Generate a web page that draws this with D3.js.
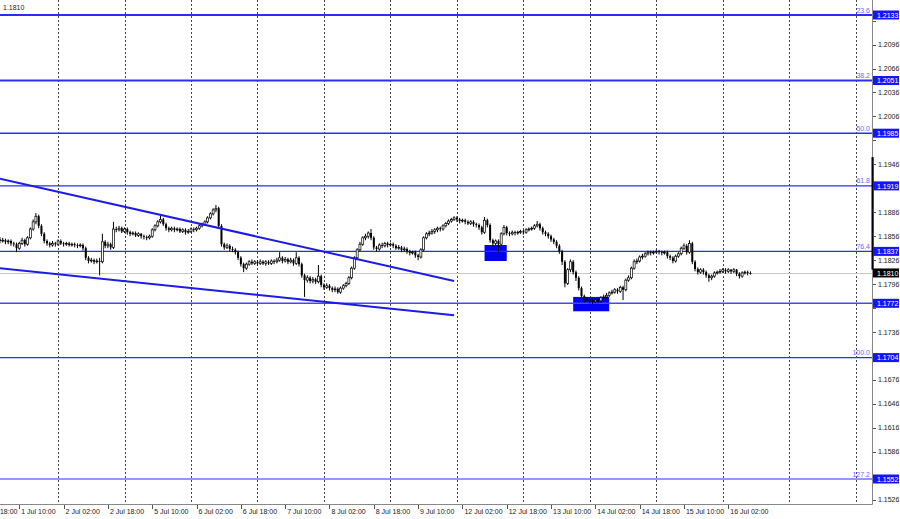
<!DOCTYPE html>
<html><head><meta charset="utf-8">
<script src="https://cdn.jsdelivr.net/npm/d3@7"></script>
<style>body{margin:0;background:#fff;}svg{display:block}</style>
</head><body>
<svg id="chart" width="900" height="519"></svg>
<script>
// ---------------- DATA ----------------
const openP = [
1.1852,1.1850,1.1851,1.1849,1.1850,1.1847,1.1846,1.1841,1.1847,1.1851,
1.1846,1.1854,1.1865,1.1874,1.1881,1.1869,1.1859,1.1850,1.1847,1.1845,
1.1847,1.1846,1.1850,1.1847,1.1846,1.1847,1.1845,1.1846,1.1845,1.1844,
1.1845,1.1841,1.1829,1.1825,1.1826,1.1824,1.1825,1.1824,1.1849,1.1844,
1.1846,1.1842,1.1865,1.1864,1.1866,1.1862,1.1865,1.1861,1.1859,1.1860,
1.1857,1.1859,1.1856,1.1855,1.1854,1.1856,1.1864,1.1869,1.1874,1.1877,
1.1871,1.1866,1.1864,1.1866,1.1864,1.1865,1.1862,1.1864,1.1861,1.1862,
1.1865,1.1864,1.1866,1.1869,1.1871,1.1874,1.1879,1.1884,1.1889,1.1891,
1.1869,1.1846,1.1842,1.1844,1.1840,1.1839,1.1836,1.1829,1.1821,1.1816,
1.1821,1.1824,1.1822,1.1824,1.1822,1.1824,1.1822,1.1824,1.1822,1.1825,
1.1824,1.1826,1.1829,1.1825,1.1827,1.1824,1.1826,1.1822,1.1829,1.1821,
1.1807,1.1801,1.1804,1.1800,1.1802,1.1799,1.1806,1.1795,1.1792,1.1794,
1.1791,1.1789,1.1790,1.1786,1.1791,1.1794,1.1797,1.1804,1.1816,1.1829,
1.1839,1.1846,1.1854,1.1856,1.1860,1.1854,1.1842,1.1840,1.1845,1.1844,
1.1847,1.1845,1.1846,1.1844,1.1841,1.1842,1.1839,1.1840,1.1837,1.1835,
1.1836,1.1832,1.1830,1.1839,1.1854,1.1859,1.1860,1.1862,1.1864,1.1866,
1.1865,1.1869,1.1872,1.1875,1.1877,1.1879,1.1877,1.1875,1.1876,1.1874,
1.1872,1.1874,1.1871,1.1870,1.1867,1.1861,1.1876,1.1870,1.1851,1.1847,
1.1850,1.1846,1.1859,1.1867,1.1860,1.1859,1.1861,1.1860,1.1861,1.1862,
1.1861,1.1864,1.1865,1.1866,1.1869,1.1871,1.1866,1.1861,1.1859,1.1856,
1.1852,1.1849,1.1844,1.1837,1.1824,1.1797,1.1814,1.1824,1.1811,1.1804,
1.1791,1.1781,1.1776,1.1777,1.1775,1.1774,1.1776,1.1775,1.1779,1.1780,
1.1782,1.1785,1.1786,1.1789,1.1787,1.1792,1.1789,1.1801,1.1804,1.1816,
1.1824,1.1825,1.1830,1.1831,1.1834,1.1836,1.1835,1.1836,1.1837,1.1836,
1.1835,1.1836,1.1831,1.1829,1.1825,1.1831,1.1834,1.1841,1.1844,1.1836,
1.1847,1.1824,1.1815,1.1811,1.1814,1.1811,1.1807,1.1804,1.1806,1.1810,
1.1811,1.1812,1.1814,1.1812,1.1814,1.1812,1.1814,1.1809,1.1806,1.1810,
1.1811,1.1810];
const highP = [
1.1855,1.1854,1.1853,1.1852,1.1852,1.1849,1.1848,1.1849,1.1854,1.1853,
1.1856,1.1867,1.1877,1.1885,1.1883,1.1871,1.1861,1.1852,1.1849,1.1850,
1.1849,1.1852,1.1852,1.1849,1.1849,1.1849,1.1848,1.1848,1.1847,1.1847,
1.1847,1.1843,1.1831,1.1829,1.1828,1.1828,1.1829,1.1859,1.1851,1.1849,
1.1848,1.1874,1.1868,1.1869,1.1868,1.1867,1.1867,1.1863,1.1862,1.1862,
1.1861,1.1860,1.1858,1.1857,1.1858,1.1866,1.1871,1.1876,1.1882,1.1879,
1.1873,1.1868,1.1868,1.1868,1.1867,1.1867,1.1866,1.1866,1.1865,1.1867,
1.1867,1.1868,1.1871,1.1873,1.1876,1.1881,1.1886,1.1891,1.1895,1.1893,
1.1871,1.1848,1.1847,1.1846,1.1843,1.1841,1.1838,1.1831,1.1823,1.1823,
1.1826,1.1827,1.1826,1.1826,1.1827,1.1826,1.1826,1.1826,1.1827,1.1827,
1.1829,1.1836,1.1831,1.1830,1.1829,1.1829,1.1828,1.1836,1.1831,1.1823,
1.1809,1.1807,1.1806,1.1805,1.1804,1.1820,1.1808,1.1797,1.1797,1.1796,
1.1793,1.1793,1.1792,1.1793,1.1796,1.1799,1.1806,1.1818,1.1831,1.1841,
1.1849,1.1856,1.1859,1.1862,1.1865,1.1856,1.1844,1.1847,1.1848,1.1849,
1.1849,1.1848,1.1848,1.1846,1.1845,1.1844,1.1843,1.1842,1.1839,1.1838,
1.1838,1.1834,1.1841,1.1856,1.1861,1.1863,1.1865,1.1866,1.1868,1.1868,
1.1871,1.1874,1.1877,1.1879,1.1881,1.1881,1.1879,1.1878,1.1878,1.1876,
1.1876,1.1876,1.1873,1.1872,1.1869,1.1880,1.1878,1.1872,1.1853,1.1852,
1.1852,1.1861,1.1870,1.1869,1.1862,1.1863,1.1863,1.1863,1.1864,1.1864,
1.1866,1.1867,1.1868,1.1871,1.1875,1.1873,1.1868,1.1863,1.1861,1.1858,
1.1854,1.1851,1.1846,1.1839,1.1826,1.1816,1.1827,1.1826,1.1813,1.1806,
1.1793,1.1783,1.1780,1.1779,1.1778,1.1779,1.1778,1.1781,1.1783,1.1785,
1.1787,1.1789,1.1791,1.1791,1.1794,1.1794,1.1803,1.1807,1.1818,1.1827,
1.1828,1.1832,1.1834,1.1836,1.1838,1.1838,1.1838,1.1839,1.1839,1.1838,
1.1838,1.1838,1.1833,1.1831,1.1833,1.1836,1.1843,1.1847,1.1846,1.1851,
1.1849,1.1826,1.1817,1.1816,1.1816,1.1813,1.1809,1.1808,1.1812,1.1813,
1.1815,1.1816,1.1816,1.1816,1.1815,1.1816,1.1815,1.1811,1.1812,1.1813,
1.1813,1.1812];
const lowP = [
1.1847,1.1848,1.1846,1.1846,1.1844,1.1843,1.1836,1.1839,1.1845,1.1843,
1.1844,1.1852,1.1863,1.1871,1.1866,1.1856,1.1847,1.1844,1.1842,1.1843,
1.1843,1.1844,1.1845,1.1843,1.1844,1.1843,1.1843,1.1842,1.1841,1.1842,
1.1838,1.1826,1.1822,1.1823,1.1821,1.1822,1.1807,1.1822,1.1841,1.1841,
1.1839,1.1840,1.1861,1.1862,1.1860,1.1860,1.1858,1.1856,1.1857,1.1855,
1.1855,1.1853,1.1852,1.1851,1.1852,1.1854,1.1862,1.1867,1.1872,1.1869,
1.1863,1.1861,1.1862,1.1861,1.1862,1.1860,1.1860,1.1858,1.1859,1.1860,
1.1861,1.1862,1.1864,1.1867,1.1869,1.1872,1.1877,1.1882,1.1886,1.1866,
1.1843,1.1839,1.1840,1.1837,1.1836,1.1833,1.1826,1.1818,1.1811,1.1814,
1.1819,1.1820,1.1820,1.1819,1.1820,1.1820,1.1819,1.1820,1.1820,1.1821,
1.1822,1.1824,1.1822,1.1823,1.1821,1.1822,1.1819,1.1820,1.1818,1.1804,
1.1780,1.1798,1.1797,1.1797,1.1796,1.1797,1.1792,1.1789,1.1790,1.1788,
1.1786,1.1786,1.1784,1.1784,1.1789,1.1792,1.1795,1.1802,1.1814,1.1826,
1.1837,1.1844,1.1851,1.1853,1.1851,1.1839,1.1837,1.1838,1.1841,1.1842,
1.1842,1.1843,1.1841,1.1839,1.1839,1.1836,1.1837,1.1834,1.1832,1.1833,
1.1829,1.1826,1.1828,1.1837,1.1852,1.1856,1.1858,1.1859,1.1861,1.1862,
1.1863,1.1867,1.1870,1.1873,1.1875,1.1874,1.1872,1.1873,1.1871,1.1870,
1.1870,1.1868,1.1867,1.1864,1.1858,1.1859,1.1867,1.1848,1.1843,1.1844,
1.1836,1.1844,1.1857,1.1857,1.1856,1.1857,1.1857,1.1858,1.1859,1.1858,
1.1859,1.1862,1.1863,1.1864,1.1867,1.1863,1.1858,1.1856,1.1853,1.1849,
1.1846,1.1841,1.1834,1.1820,1.1792,1.1795,1.1811,1.1808,1.1800,1.1788,
1.1778,1.1773,1.1774,1.1772,1.1771,1.1772,1.1772,1.1773,1.1777,1.1778,
1.1780,1.1783,1.1784,1.1784,1.1785,1.1776,1.1787,1.1799,1.1802,1.1814,
1.1821,1.1823,1.1827,1.1829,1.1832,1.1832,1.1833,1.1834,1.1833,1.1832,
1.1833,1.1828,1.1826,1.1822,1.1823,1.1829,1.1832,1.1839,1.1833,1.1834,
1.1821,1.1812,1.1808,1.1809,1.1808,1.1804,1.1799,1.1801,1.1804,1.1808,
1.1809,1.1810,1.1809,1.1810,1.1809,1.1810,1.1806,1.1803,1.1804,1.1808,
1.1807,1.1808];
const closeP = [
1.1850,1.1851,1.1849,1.1850,1.1847,1.1846,1.1841,1.1847,1.1851,1.1846,
1.1854,1.1865,1.1874,1.1881,1.1869,1.1859,1.1850,1.1847,1.1845,1.1847,
1.1846,1.1850,1.1847,1.1846,1.1847,1.1845,1.1846,1.1845,1.1844,1.1845,
1.1841,1.1829,1.1825,1.1826,1.1824,1.1825,1.1824,1.1849,1.1844,1.1846,
1.1842,1.1865,1.1864,1.1866,1.1862,1.1865,1.1861,1.1859,1.1860,1.1857,
1.1859,1.1856,1.1855,1.1854,1.1856,1.1864,1.1869,1.1874,1.1877,1.1871,
1.1866,1.1864,1.1866,1.1864,1.1865,1.1862,1.1864,1.1861,1.1862,1.1865,
1.1864,1.1866,1.1869,1.1871,1.1874,1.1879,1.1884,1.1889,1.1891,1.1869,
1.1846,1.1842,1.1844,1.1840,1.1839,1.1836,1.1829,1.1821,1.1816,1.1821,
1.1824,1.1822,1.1824,1.1822,1.1824,1.1822,1.1824,1.1822,1.1825,1.1824,
1.1826,1.1829,1.1825,1.1827,1.1824,1.1826,1.1822,1.1829,1.1821,1.1807,
1.1801,1.1804,1.1800,1.1802,1.1799,1.1806,1.1795,1.1792,1.1794,1.1791,
1.1789,1.1790,1.1786,1.1791,1.1794,1.1797,1.1804,1.1816,1.1829,1.1839,
1.1846,1.1854,1.1856,1.1860,1.1854,1.1842,1.1840,1.1845,1.1844,1.1847,
1.1845,1.1846,1.1844,1.1841,1.1842,1.1839,1.1840,1.1837,1.1835,1.1836,
1.1832,1.1830,1.1839,1.1854,1.1859,1.1860,1.1862,1.1864,1.1866,1.1865,
1.1869,1.1872,1.1875,1.1877,1.1879,1.1877,1.1875,1.1876,1.1874,1.1872,
1.1874,1.1871,1.1870,1.1867,1.1861,1.1876,1.1870,1.1851,1.1847,1.1850,
1.1846,1.1859,1.1867,1.1860,1.1859,1.1861,1.1860,1.1861,1.1862,1.1861,
1.1864,1.1865,1.1866,1.1869,1.1871,1.1866,1.1861,1.1859,1.1856,1.1852,
1.1849,1.1844,1.1837,1.1824,1.1797,1.1814,1.1824,1.1811,1.1804,1.1791,
1.1781,1.1776,1.1777,1.1775,1.1774,1.1776,1.1775,1.1779,1.1780,1.1782,
1.1785,1.1786,1.1789,1.1787,1.1792,1.1789,1.1801,1.1804,1.1816,1.1824,
1.1825,1.1830,1.1831,1.1834,1.1836,1.1835,1.1836,1.1837,1.1836,1.1835,
1.1836,1.1831,1.1829,1.1825,1.1831,1.1834,1.1841,1.1844,1.1836,1.1847,
1.1824,1.1815,1.1811,1.1814,1.1811,1.1807,1.1804,1.1806,1.1810,1.1811,
1.1812,1.1814,1.1812,1.1814,1.1812,1.1814,1.1809,1.1806,1.1810,1.1811,
1.1810,1.1810];

const fibLevels = [23.6, 38.2, 50.0, 61.8, 76.4, 100.0, 127.2];
const fibPrices = [1.2133, 1.2051, 1.1985, 1.1919, 1.1837, 1.1704, 1.1552];
const supportPrices = [1.1772];
const lastPrice = 1.1810;
const priceTicks = [1.1526,1.1556,1.1586,1.1616,1.1646,1.1676,1.1706,1.1736,1.1766,1.1796,
  1.1826,1.1856,1.1886,1.1916,1.1946,1.1976,1.2006,1.2036,1.2066,1.2096,1.2126];
const timeLabels = ["30 Jun 18:00","1 Jul 10:00","2 Jul 02:00","2 Jul 18:00","5 Jul 10:00",
  "6 Jul 02:00","6 Jul 18:00","7 Jul 10:00","8 Jul 02:00","8 Jul 18:00","9 Jul 10:00",
  "12 Jul 02:00","12 Jul 18:00","13 Jul 10:00","14 Jul 02:00","14 Jul 18:00","15 Jul 10:00","16 Jul 02:00"];
const firstBarTime = "1 Jul 03:00";
// trend channel (bar index, price)
const channelUpper = [[0, 1.1928], [164, 1.1800]];
const channelLower = [[0, 1.1816], [164, 1.1757]];
// zones [barStart, barEnd, priceTop, priceBottom]
const zones = [[175, 183, 1.1845, 1.1825], [207, 220, 1.1780, 1.1762]];
const scrollMarker = [1.1955, 1.1814];

// ---------------- CALENDAR ----------------
const fmt = d3.utcFormat("%-d %b %H:%M");
const hours = [];
for (let t = Date.UTC(2021,5,28,0); t < Date.UTC(2021,6,22,0); t += 3600000) {
  const d = new Date(t); const wd = d.getUTCDay();
  if (wd === 0 || wd === 6) continue;
  hours.push(d);
}
const baseIdx = hours.findIndex(d => fmt(d) === firstBarTime);
const barOf = lbl => hours.findIndex(d => fmt(d) === lbl) - baseIdx;

// ---------------- LAYOUT ----------------
const W = 900, H = 519, plotR = 872, plotB = 504;
const x = d3.scaleLinear().domain([0, 100]).range([-0.09, 276.86]);
const y = d3.scaleLinear().domain([1.1552, 1.2133]).range([479, 15]);
const FONT = "Liberation Sans, Arial, sans-serif";

const svg = d3.select("#chart");
svg.append("rect").attr("width", W).attr("height", H).attr("fill", "#fff");
svg.append("clipPath").attr("id", "plot").append("rect")
  .attr("x", 0).attr("y", 0).attr("width", plotR).attr("height", plotB);
const plot = svg.append("g").attr("clip-path", "url(#plot)");

// day grid
const gridBars = hours.map((d, k) => ({d, b: k - baseIdx}))
  .filter(o => o.d.getUTCHours() === 0 && x(o.b) > 0 && x(o.b) < plotR);
plot.selectAll("line.grid").data(gridBars).join("line").attr("class", "grid")
  .attr("x1", o => Math.round(x(o.b)) + 0.5).attr("x2", o => Math.round(x(o.b)) + 0.5)
  .attr("y1", 0).attr("y2", plotB)
  .attr("stroke", "#444").attr("stroke-width", 1).attr("stroke-dasharray", "2,2");

// current price line
plot.append("line").attr("x1", 0).attr("x2", plotR)
  .attr("y1", Math.round(y(lastPrice)) + 0.5).attr("y2", Math.round(y(lastPrice)) + 0.5)
  .attr("stroke", "#c8c8c8").attr("stroke-width", 1);

// zones
plot.selectAll("rect.zone").data(zones).join("rect").attr("class", "zone")
  .attr("x", z => x(z[0])).attr("width", z => x(z[1]) - x(z[0]))
  .attr("y", z => y(z[2])).attr("height", z => y(z[3]) - y(z[2]))
  .attr("fill", "#0000f0");

// fib lines
const fibW = [2, 2, 1.6, 1.4, 1.4, 1.4, 1.2];
plot.selectAll("line.fib").data(fibPrices).join("line").attr("class", "fib")
  .attr("x1", 0).attr("x2", plotR).attr("y1", p => y(p)).attr("y2", p => y(p))
  .attr("stroke", "#2c2cf5").attr("stroke-width", (p, i) => fibW[i]);
plot.selectAll("line.sup").data(supportPrices).join("line").attr("class", "sup")
  .attr("x1", 0).attr("x2", plotR).attr("y1", p => y(p)).attr("y2", p => y(p))
  .attr("stroke", "#4646ff").attr("stroke-width", 1.6);

// candles
const bars = closeP.map((c, i) => ({i, o: openP[i], h: highP[i], l: lowP[i], c}));
const cg = plot.append("g");
cg.selectAll("line.wick").data(bars).join("line").attr("class", "wick")
  .attr("x1", d => x(d.i)).attr("x2", d => x(d.i))
  .attr("y1", d => y(d.h)).attr("y2", d => y(d.l))
  .attr("stroke", "#000").attr("stroke-width", 1);
cg.selectAll("rect.body").data(bars).join("rect").attr("class", "body")
  .attr("x", d => x(d.i) - 1).attr("width", 2)
  .attr("y", d => y(Math.max(d.o, d.c)))
  .attr("height", d => Math.max(0.8, Math.abs(y(d.o) - y(d.c))))
  .attr("fill", d => d.c > d.o ? "#fff" : "#000")
  .attr("stroke", "#000").attr("stroke-width", d => d.c > d.o ? 0.7 : 0);

// channel lines
plot.selectAll("line.chan").data([channelUpper, channelLower]).join("line").attr("class", "chan")
  .attr("x1", c => x(c[0][0])).attr("y1", c => y(c[0][1]))
  .attr("x2", c => x(c[1][0])).attr("y2", c => y(c[1][1]))
  .attr("stroke", "#1c1ce6").attr("stroke-width", 2);

// fib level texts
svg.selectAll("text.fibl").data(fibLevels).join("text").attr("class", "fibl")
  .attr("x", 870).attr("y", (v, i) => y(fibPrices[i]) - 2.5)
  .attr("text-anchor", "end").attr("font-family", FONT).attr("font-size", 7)
  .attr("fill", "#6b6bff").text(v => v.toFixed(1));

// axes lines
svg.append("line").attr("x1", 0).attr("x2", plotR + 0.5).attr("y1", plotB + 0.5).attr("y2", plotB + 0.5)
  .attr("stroke", "#888");
svg.append("line").attr("x1", plotR + 0.5).attr("x2", plotR + 0.5).attr("y1", 0).attr("y2", plotB + 0.5)
  .attr("stroke", "#888");
svg.append("rect").attr("x", plotR - 0.5).attr("width", 2.2)
  .attr("y", y(scrollMarker[0])).attr("height", y(scrollMarker[1]) - y(scrollMarker[0]))
  .attr("fill", "#000");

// price labels (boxes)
const boxes = fibPrices.concat(supportPrices).map(p => ({p, bg: "#1414ff"}))
  .concat([{p: lastPrice, bg: "#000"}]);

// price axis ticks (labels fully hidden behind a box are not drawn)
const visTicks = priceTicks.filter(p => boxes.every(b => Math.abs(y(b.p) - y(p)) > 8.5));
const pt = svg.append("g");
pt.selectAll("line").data(priceTicks).join("line")
  .attr("x1", plotR + 1).attr("x2", plotR + 4)
  .attr("y1", p => Math.round(y(p)) + 0.5).attr("y2", p => Math.round(y(p)) + 0.5)
  .attr("stroke", "#555");
pt.selectAll("text").data(visTicks).join("text")
  .attr("x", plotR + 6).attr("y", p => y(p) + 2.5)
  .attr("font-family", FONT).attr("font-size", 7).attr("fill", "#222")
  .text(p => p.toFixed(4));

const bg = svg.append("g");
bg.selectAll("rect").data(boxes).join("rect")
  .attr("x", plotR + 1).attr("width", W - plotR - 2)
  .attr("y", d => y(d.p) - 4.5).attr("height", 9).attr("fill", d => d.bg);
bg.selectAll("text").data(boxes).join("text")
  .attr("x", plotR + 5).attr("y", d => y(d.p) + 2.6)
  .attr("font-family", FONT).attr("font-size", 7).attr("fill", "#fff")
  .text(d => d.p.toFixed(4));

// time axis
const tl = timeLabels.map(l => ({l, b: barOf(l)}));
const tg = svg.append("g");
tg.selectAll("line").data(tl.filter(d => x(d.b) >= 0)).join("line")
  .attr("x1", d => Math.round(x(d.b)) + 0.5).attr("x2", d => Math.round(x(d.b)) + 0.5)
  .attr("y1", plotB + 1).attr("y2", plotB + 5).attr("stroke", "#555");
tg.selectAll("text").data(tl).join("text")
  .attr("x", d => x(d.b) + 2).attr("y", plotB + 9.5)
  .attr("font-family", FONT).attr("font-size", 7).attr("fill", "#222")
  .text(d => d.l);

// title
svg.append("text").attr("x", 3).attr("y", 9.5)
  .attr("font-family", FONT).attr("font-size", 7).attr("fill", "#222").text(lastPrice.toFixed(4));
</script>
</body></html>
